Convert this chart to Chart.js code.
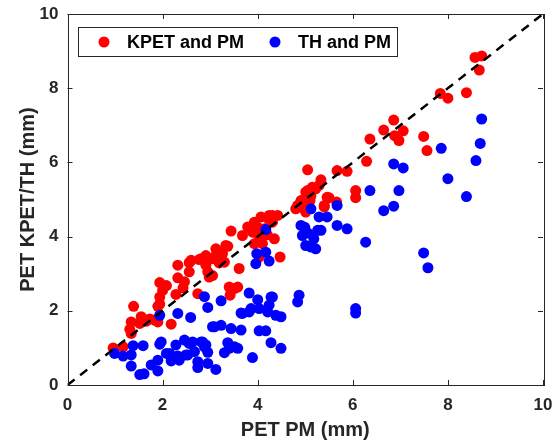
<!DOCTYPE html>
<html><head><meta charset="utf-8">
<script src="https://cdn.jsdelivr.net/npm/chart.js@4/dist/chart.umd.min.js"></script>
<style>html,body{margin:0;padding:0;background:#fff}</style>
</head><body>
<canvas id="c" width="557" height="444"></canvas>
<script>
// KPET vs PM (red)
const kpetX = [0.96,1.17,1.34,1.34,1.31,1.39,1.55,1.52,1.66,1.73,1.83,1.90,2.18,1.90,1.94,1.94,1.94,2.08,2.00,2.28,2.32,2.46,2.43,2.32,2.56,2.56,2.60,2.74,2.77,2.81,2.91,2.91,2.95,3.05,2.98,3.05,3.12,3.09,3.19,3.23,3.26,3.30,3.33,3.37,3.44,3.40,3.42,3.51,3.58,3.61,3.68,3.79,3.89,3.93,3.99,4.03,4.07,4.07,4.10,3.93,4.16,4.24,4.20,4.31,4.31,4.35,4.42,4.47,4.03,4.21,4.80,4.84,4.91,4.98,5.01,5.01,5.05,5.10,5.12,5.15,5.22,5.29,5.33,5.40,5.40,5.46,5.50,5.66,5.05,5.67,5.88,6.06,6.06,6.29,6.36,6.65,6.86,6.88,6.97,7.06,7.49,7.56,7.84,8.00,8.39,8.57,8.71,8.66];
const kpetY = [1.00,1.03,1.39,1.70,1.50,2.12,1.84,1.66,1.72,1.78,1.75,1.70,1.64,2.12,2.18,2.37,2.76,2.68,2.55,2.44,2.89,2.78,2.62,3.23,3.30,3.05,3.36,2.46,3.38,3.40,3.49,3.23,3.05,2.95,2.91,3.40,3.67,3.45,3.29,3.45,3.54,3.31,3.76,3.74,4.15,2.64,2.42,2.60,2.64,3.14,4.03,4.26,4.12,4.39,4.26,3.99,4.08,4.53,3.81,3.81,4.22,4.57,4.05,4.39,4.57,3.94,4.57,3.45,3.45,4.50,4.75,4.84,4.97,4.75,4.66,5.20,5.24,4.97,5.10,5.33,5.29,5.38,5.53,4.84,4.80,5.06,5.05,4.93,5.80,5.78,5.76,5.24,5.05,6.03,6.63,6.87,7.14,6.72,6.59,6.85,6.70,6.32,7.86,7.73,7.88,8.83,8.87,8.49];
// TH vs PM (blue)
const thX = [0.99,1.17,1.34,1.38,1.59,1.34,1.52,1.61,1.76,1.90,1.90,1.97,1.94,1.94,2.32,2.59,2.08,2.15,2.18,2.28,2.32,2.35,2.46,2.56,2.49,2.53,2.63,2.67,2.74,2.74,2.81,2.84,2.91,2.88,2.95,2.95,3.12,3.05,3.09,3.23,3.44,3.30,3.37,3.40,3.51,3.58,2.88,2.95,3.23,3.65,3.65,3.68,3.82,3.82,3.86,4.00,4.03,4.21,4.24,4.28,4.31,4.38,4.49,4.84,4.87,4.03,4.17,4.28,4.49,3.89,6.06,6.06,3.98,4.17,3.96,4.24,4.17,4.91,4.94,4.99,5.05,5.01,5.12,5.22,5.26,5.33,5.18,5.12,5.29,5.46,5.67,5.67,5.88,6.27,6.36,6.65,6.86,6.97,6.86,7.06,7.49,7.58,7.86,8.00,8.39,8.59,8.68,8.71];
const thY = [0.85,0.78,0.81,1.06,1.06,0.51,0.28,0.30,0.54,0.38,0.67,1.16,1.10,1.88,1.93,1.82,0.85,0.85,0.65,1.08,0.78,0.67,1.21,1.12,0.81,0.81,1.16,0.90,0.63,0.47,1.16,1.16,1.08,1.03,0.88,0.58,0.42,1.57,1.57,1.61,1.52,0.87,1.14,0.99,1.03,0.99,2.38,2.09,2.27,1.94,1.48,1.93,2.48,1.97,2.06,2.30,2.06,1.97,2.15,2.37,2.37,1.88,1.84,2.24,2.42,1.46,1.46,1.14,0.99,0.74,2.06,1.94,3.54,3.58,3.27,3.34,4.19,4.30,4.03,4.25,4.10,3.76,3.72,3.67,4.17,4.17,3.94,4.75,4.53,4.53,4.84,4.30,4.21,3.85,5.24,4.70,4.82,5.24,5.96,5.85,3.56,3.16,6.38,5.56,5.08,6.05,6.51,7.17];
const refLineX = [0, 10];
const refLineY = [0, 10];
const xTicks = [0, 2, 4, 6, 8, 10];
const yTicks = [0, 2, 4, 6, 8, 10];
const seriesLabels = ['KPET and PM', 'TH and PM'];

const zip = (xs, ys) => xs.map((x, i) => ({x, y: ys[i]}));
const AX = '#262626';
const FAM = '"Liberation Sans", Arial, sans-serif';

const framePlugin = {
  id: 'frame',
  afterDraw(chart) {
    const ctx = chart.ctx, a = chart.chartArea;
    const xs = chart.scales.x, ys = chart.scales.y;
    ctx.save();
    ctx.strokeStyle = AX; ctx.lineWidth = 1;
    ctx.strokeRect(Math.round(a.left) + 0.5, Math.round(a.top) + 0.5, Math.round(a.right - a.left), Math.round(a.bottom - a.top));
    ctx.beginPath();
    xTicks.forEach(v => {
      const p = Math.round(xs.getPixelForValue(v)) + 0.5;
      ctx.moveTo(p, a.bottom); ctx.lineTo(p, a.bottom - 5);
      ctx.moveTo(p, a.top); ctx.lineTo(p, a.top + 5);
    });
    yTicks.forEach(v => {
      const p = Math.round(ys.getPixelForValue(v)) + 0.5;
      ctx.moveTo(a.left, p); ctx.lineTo(a.left + 5, p);
      ctx.moveTo(a.right, p); ctx.lineTo(a.right - 5, p);
    });
    ctx.stroke();
    // legend box
    const bx = 78.5, by = 27.5, bw = 319, bh = 29;
    ctx.fillStyle = '#fff';
    ctx.fillRect(bx, by, bw, bh);
    ctx.strokeRect(bx, by, bw, bh);
    const items = [
      {mx: 104, tx: 127, ds: chart.data.datasets[0]},
      {mx: 275, tx: 298, ds: chart.data.datasets[1]}
    ];
    ctx.font = 'bold 18px ' + FAM;
    ctx.textBaseline = 'middle';
    items.forEach(it => {
      ctx.fillStyle = it.ds.backgroundColor;
      ctx.beginPath(); ctx.arc(it.mx, by + bh / 2, 5.5, 0, Math.PI * 2); ctx.fill();
      ctx.fillStyle = '#000';
      ctx.fillText(it.ds.label, it.tx, by + bh / 2 + 1);
    });
    ctx.restore();
  }
};

new Chart(document.getElementById('c'), {
  type: 'scatter',
  data: {
    datasets: [
      {label: seriesLabels[0], data: zip(kpetX, kpetY), backgroundColor: '#ff0000', borderColor: '#ff0000', pointRadius: 5.5, pointBorderWidth: 0, order: 3},
      {label: seriesLabels[1], data: zip(thX, thY), backgroundColor: '#0000ff', borderColor: '#0000ff', pointRadius: 5.5, pointBorderWidth: 0, order: 2},
      {type: 'line', label: '1:1', data: zip(refLineX, refLineY), borderColor: '#000', borderWidth: 2.5, borderDash: [9, 7], pointRadius: 0, fill: false, order: 1}
    ]
  },
  options: {
    responsive: false,
    animation: false,
    devicePixelRatio: 1,
    layout: {padding: {left: 14, top: 14, right: 14, bottom: 0}},
    plugins: {legend: {display: false}, tooltip: {enabled: false}},
    scales: {
      x: {
        type: 'linear', min: 0, max: 10,
        afterBuildTicks: s => { s.ticks = xTicks.map(v => ({value: v})); },
        afterFit: s => { s.height = 59; s.paddingLeft = 0; s.paddingRight = 0; },
        grid: {display: false, drawTicks: false},
        border: {display: false},
        ticks: {font: {family: FAM, size: 17, weight: 'bold'}, color: AX, padding: 10},
        title: {display: true, text: 'PET PM (mm)', color: AX, font: {family: FAM, size: 20, weight: 'bold'}, padding: {top: 2, bottom: 2}}
      },
      y: {
        type: 'linear', min: 0, max: 10,
        afterBuildTicks: s => { s.ticks = yTicks.map(v => ({value: v})); },
        afterFit: s => { s.width = 53.5; s.paddingTop = 0; s.paddingBottom = 0; },
        grid: {display: false, drawTicks: false},
        border: {display: false},
        ticks: {font: {family: FAM, size: 17, weight: 'bold'}, color: AX, padding: 9},
        title: {display: true, text: 'PET KPET/TH (mm)', color: AX, font: {family: FAM, size: 20, weight: 'bold'}, padding: {top: 2, bottom: 2}}
      }
    }
  },
  plugins: [framePlugin]
});
</script>
</body></html>
